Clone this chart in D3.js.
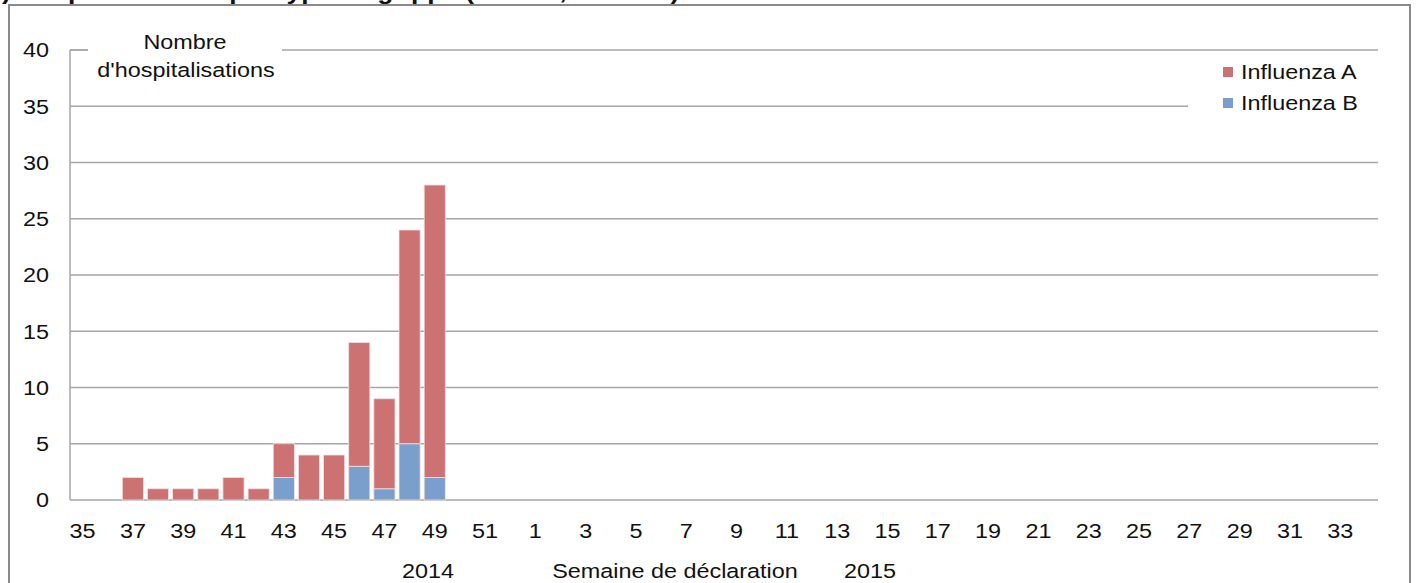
<!DOCTYPE html>
<html>
<head>
<meta charset="utf-8">
<script src="https://cdn.jsdelivr.net/npm/d3@7"></script>
<style>
  html, body { margin: 0; padding: 0; background: #fff; }
  svg { display: block; font-family: "Liberation Sans", Arial, sans-serif; }
</style>
</head>
<body>
<svg id="chart" width="1418" height="583"></svg>
<script>
// Semaines de déclaration : 35 à 52 (2014), puis 1 à 34 (2015)
const weeks2014 = d3.range(35, 53);
const weeks2015 = d3.range(1, 35);
const weekKeys = [...weeks2014.map(w => "2014-" + w), ...weeks2015.map(w => "2015-" + w)];
const weekLabels = [...weeks2014, ...weeks2015];

// Nombre d'hospitalisations par semaine
const influenzaA = [0, 0, 2, 1, 1, 1, 2, 1, 3, 4, 4, 11, 8, 19, 26, 0, 0, 0,
                    0, 0, 0, 0, 0, 0, 0, 0, 0, 0, 0, 0, 0, 0, 0, 0, 0, 0, 0,
                    0, 0, 0, 0, 0, 0, 0, 0, 0, 0, 0, 0, 0, 0, 0];
const influenzaB = [0, 0, 0, 0, 0, 0, 0, 0, 2, 0, 0, 3, 1, 5, 2, 0, 0, 0,
                    0, 0, 0, 0, 0, 0, 0, 0, 0, 0, 0, 0, 0, 0, 0, 0, 0, 0, 0,
                    0, 0, 0, 0, 0, 0, 0, 0, 0, 0, 0, 0, 0, 0, 0];
const yTicks = [0, 5, 10, 15, 20, 25, 30, 35, 40];
const seriesNames = ["Influenza A", "Influenza B"];
const colors = { "Influenza A": "#cd7272", "Influenza B": "#7b9fcd" };

const svg = d3.select("#chart");
const plotLeft = 70, plotRight = 1378, plotTop = 50, plotBottom = 500;
const fontSize = 19.5;
const stretch = 1.2; // texte élargi horizontalement

// texte positionné en (tx, ty), élargi horizontalement
function label(parent, tx, ty, txt, anchor) {
  return parent.append("text")
    .attr("transform", `translate(${tx},${ty}) scale(${stretch},1)`)
    .attr("text-anchor", anchor || "middle")
    .attr("font-size", fontSize).attr("fill", "#111")
    .text(txt);
}

// Titre (coupé par le bord supérieur)
svg.append("text")
  .attr("transform", `translate(-14,-1) scale(${stretch},1)`)
  .attr("font-size", 22).attr("font-weight", "bold").attr("fill", "#111")
  .text("b) Hospitalisations par type de grippe (Suisse, 2014-15)");

// Cadre
svg.append("rect")
  .attr("x", 9).attr("y", 5).attr("width", 1401).attr("height", 600)
  .attr("fill", "#fff").attr("stroke", "#8a8a8a").attr("stroke-width", 2);

const x = d3.scaleBand().domain(weekKeys).range([plotLeft, plotRight]).paddingInner(0.16).paddingOuter(0.08);
const y = d3.scaleLinear().domain([0, 40]).range([plotBottom, plotTop]);

// Grille horizontale
svg.append("g")
  .selectAll("line").data(yTicks).join("line")
  .attr("x1", plotLeft).attr("x2", plotRight)
  .attr("y1", d => y(d)).attr("y2", d => y(d))
  .attr("stroke", "#a6a6a6").attr("stroke-width", 1.5);

// Axe vertical
svg.append("line")
  .attr("x1", plotLeft).attr("x2", plotLeft).attr("y1", y(40)).attr("y2", y(0))
  .attr("stroke", "#a6a6a6").attr("stroke-width", 1.5);

// Barres empilées
const rows = weekKeys.map((k, i) => ({ key: k, "Influenza A": influenzaA[i], "Influenza B": influenzaB[i] }));
const stack = d3.stack().keys(["Influenza B", "Influenza A"])(rows);
svg.append("g")
  .selectAll("g").data(stack).join("g")
  .attr("fill", s => colors[s.key])
  .selectAll("rect").data(s => s.filter(d => d[1] > d[0])).join("rect")
  .attr("x", d => x(d.data.key))
  .attr("width", x.bandwidth())
  .attr("y", d => y(d[1]))
  .attr("height", d => y(d[0]) - y(d[1]))
  .attr("stroke", "#f3e0e0").attr("stroke-width", 0.8);

// Axe X : une étiquette sur deux
const xAxis = d3.axisBottom(x)
  .tickValues(weekKeys.filter((k, i) => i % 2 === 0))
  .tickFormat(k => weekLabels[weekKeys.indexOf(k)])
  .tickSize(0).tickPadding(0);
const gx = svg.append("g").attr("transform", `translate(0,${plotBottom})`).call(xAxis);
gx.select(".domain").remove();
gx.selectAll("text")
  .attr("y", 38).attr("dy", null)
  .attr("transform", `scale(${stretch},1)`)
  .attr("font-size", fontSize).attr("fill", "#111")
  .attr("font-family", "Liberation Sans, Arial, sans-serif");

// Axe Y
const yAxis = d3.axisLeft(y).tickValues(yTicks).tickSize(0).tickPadding(0);
const gy = svg.append("g").attr("transform", `translate(${plotLeft},0)`).call(yAxis);
gy.select(".domain").remove();
gy.selectAll("text")
  .attr("x", -21 / stretch).attr("dy", "0.35em")
  .attr("transform", `scale(${stretch},1)`)
  .attr("font-size", fontSize).attr("fill", "#111")
  .attr("font-family", "Liberation Sans, Arial, sans-serif");

// Titre de l'axe Y
svg.append("rect").attr("x", 88).attr("y", 28).attr("width", 194).attr("height", 60).attr("fill", "#fff");
svg.append("line").attr("x1", plotLeft).attr("x2", 88).attr("y1", y(40)).attr("y2", y(40))
  .attr("stroke", "#a6a6a6").attr("stroke-width", 1.5);
label(svg, 185, 49, "Nombre");
label(svg, 186, 77, "d'hospitalisations");

// Titres de l'axe X
label(svg, 428, 578, "2014");
label(svg, 675, 578, "Semaine de déclaration");
label(svg, 870, 578, "2015");

// Légende
svg.append("rect").attr("x", 1188).attr("y", 56).attr("width", 190).attr("height", 64).attr("fill", "#fff");
const legend = svg.append("g").selectAll("g").data(seriesNames).join("g")
  .attr("transform", (d, i) => `translate(1223,${72 + i * 31})`);
legend.append("rect").attr("x", 0).attr("y", -5).attr("width", 10).attr("height", 10)
  .attr("fill", d => colors[d]);
legend.each(function(d) { label(d3.select(this), 18, 7, d, "start"); });
</script>
</body>
</html>
